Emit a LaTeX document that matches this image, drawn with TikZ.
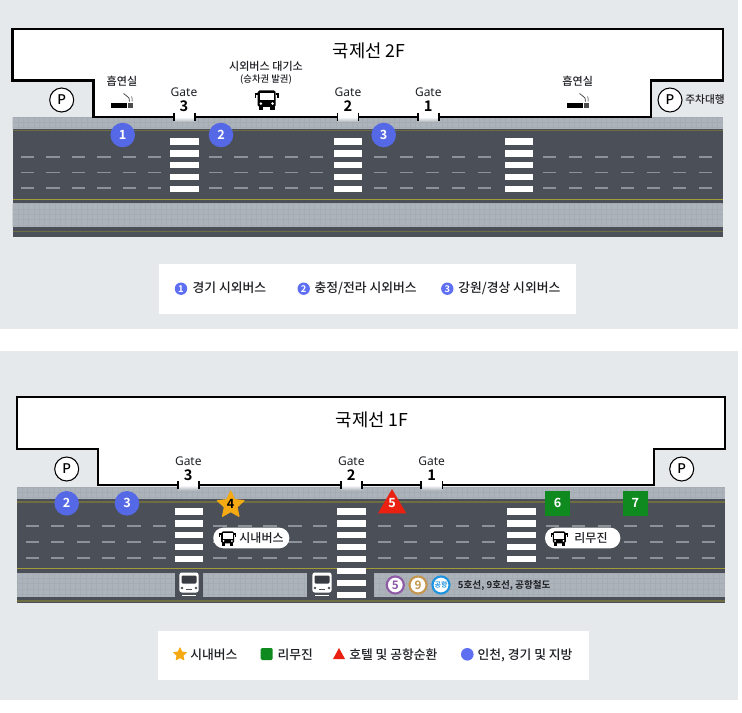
\documentclass[tikz,border=0pt]{standalone}
\usepackage{fontspec}
\setmainfont{Noto Sans CJK KR Medium}[BoldFont={Noto Sans CJK KR Bold}]
\newfontfamily\titlefont{Noto Sans CJK KR}
\newfontfamily\gatefont{Noto Sans}
\usetikzlibrary{shapes.geometric}
\definecolor{pagebg}{HTML}{E6E9EC}
\definecolor{roadc}{HTML}{4B5058}
\definecolor{walkc}{HTML}{ADB3BB}
\definecolor{gridc}{HTML}{A6ACB4}
\definecolor{dashc}{HTML}{8D9198}
\definecolor{yelA}{HTML}{6F6D42}
\definecolor{yelB}{HTML}{A39C35}
\definecolor{markblue}{HTML}{5568E6}
\definecolor{legblue}{HTML}{5F6FF2}
\definecolor{markgreen}{HTML}{0F8A1E}
\definecolor{markred}{HTML}{EA2110}
\definecolor{markstar}{HTML}{F5A912}
\definecolor{inkc}{HTML}{1E2024}
\definecolor{subA}{HTML}{8E5BA6}
\definecolor{subB}{HTML}{C4964E}
\definecolor{subC}{HTML}{1E94E0}
\tikzset{
  x=0.75pt,y=-0.75pt,
  building/.style={fill=white,draw=black,line width=1.6pt,line join=miter},
  roadfill/.style={fill=roadc,draw=none},
  walkfill/.style={fill=walkc,draw=none},
  gridline/.style={draw=gridc,line width=0.25pt},
  lanedash/.style={draw=dashc,line width=1.4pt},
  crossbar/.style={fill=white,draw=none},
  yellowA/.style={draw=yelA,line width=1.4pt},
  yellowB/.style={draw=yelB,line width=0.8pt},
  gatetick/.style={draw=black,line width=1.2pt},
  numcircle/.style={circle,fill=markblue,draw=none,text=white,minimum size=18.4pt,inner sep=0pt,font=\fontsize{9.5}{10}\selectfont\bfseries},
  numsquare/.style={rectangle,fill=markgreen,draw=none,text=white,minimum size=18.4pt,inner sep=0pt,font=\fontsize{9.5}{10}\selectfont\bfseries},
  numtext/.style={text=white,inner sep=0pt,font=\fontsize{9.5}{10}\selectfont\bfseries},
  staricon/.style={star,star points=5,star point ratio=2.1,fill=markstar,draw=markstar,line join=round,line width=0.8pt,inner sep=0pt,minimum size=21pt,text=black,font=\fontsize{9.5}{10}\selectfont\bfseries},
  pcircle/.style={circle,draw=black,fill=white,line width=0.8pt,minimum size=18pt,inner sep=0pt,font=\fontsize{10}{11}\selectfont},
  gatelabel/.style={inner sep=0pt,text=inkc,font=\gatefont\fontsize{9}{10}\selectfont},
  gatenum/.style={inner sep=0pt,text=black,font=\fontsize{11}{12}\selectfont\bfseries},
  title/.style={inner sep=0pt,text=black,font=\titlefont\fontsize{13.3}{14}\selectfont},
  smalltext/.style={inner sep=0pt,text=inkc,font=\fontsize{8.3}{10}\selectfont},
  legendtext/.style={anchor=west,inner sep=0pt,text=inkc,font=\fontsize{9.6}{11}\selectfont},
  legendnum/.style={numcircle,fill=legblue,minimum size=9.3pt,font=\fontsize{7}{8}\selectfont\bfseries},
  pill/.style={fill=white,draw=none,rounded corners=7.5pt},
  subway/.style={circle,draw=#1,fill=white,line width=1.6pt,minimum size=12.8pt,inner sep=0pt,text=#1,font=\fontsize{8.8}{9}\selectfont\bfseries},
}
% sidewalk block with its fine grid
\newcommand\walkblock[4]{%
  \fill[walkfill] (#1,#2) rectangle (#3,#4);
  \begin{scope}
    \clip (#1,#2) rectangle (#3,#4);
    \foreach \gx in {0,5.3,...,742} {\draw[gridline] (\gx+#1,#2) -- (\gx+#1,#4);}
    \foreach \gy in {0,5.3,...,40} {\draw[gridline] (#1,\gy+#2) -- (#3,\gy+#2);}
  \end{scope}}
% row of lane dashes: start, period, count-1, y list
\newcommand\lanes[4]{%
  \foreach \ly in {#4} {\foreach \li in {0,...,#3} {\draw[lanedash] ({#1+#2*\li},\ly) -- ({#1+#2*\li+13.3},\ly);}}}
% zebra crossing: left x, list of top y
\newcommand\zebra[2]{%
  \foreach \zy in {#2} {\fill[crossbar] (#1,\zy) rectangle (#1+28.6,\zy+6.3);}}
% gate gap in the building wall
\newcommand\gategap[3]{%
  \shade[top color=white,bottom color=walkc] (#1,#3) rectangle (#2,#3+5);
  \fill[white] (#1,#3-1.2) rectangle (#2,#3+1);
  \draw[gatetick] (#1,#3-4) -- (#1,#3+4);
  \draw[gatetick] (#2,#3-4) -- (#2,#3+4);}
% dark front-view bus icon
\newcommand\busicon[3]{%
  \begin{scope}[shift={(#1,#2)},scale=#3]
    \fill[black,rounded corners=1.2pt] (-9,-9.5) rectangle (9,7);
    \fill[black] (-8,6) rectangle (-3.5,10);
    \fill[black] (3.5,6) rectangle (8,10);
    \fill[black] (-12,-7) rectangle (-9,-5.2);
    \fill[black] (9,-7) rectangle (12,-5.2);
    \fill[black] (-12,-7) rectangle (-10.5,-2);
    \fill[black] (10.5,-7) rectangle (12,-2);
    \fill[white] (-6.8,-6.8) rectangle (6.8,0.5);
    \fill[white] (-5.8,3.6) circle (1.4);
    \fill[white] (5.8,3.6) circle (1.4);
  \end{scope}}
% white top-view bus on the lower lane
\newcommand\whitebus[2]{%
  \begin{scope}[shift={(#1,#2)}]
    \fill[white,rounded corners=1.8pt] (-9.6,-12.5) rectangle (9.6,7.5);
    \fill[roadc!75!black,rounded corners=0.8pt] (-7.5,-9.5) rectangle (7.5,-1.5);
    \fill[roadc] (-7,3) circle (1.3);
    \fill[roadc] (7,3) circle (1.3);
    \draw[roadc,line width=0.6pt] (-3,4.5) -- (3,4.5);
    \fill[white] (-7,9.5) rectangle (7,11.2);
  \end{scope}}
% cigarette icon, left x and body y
\newcommand\cigar[2]{%
  \begin{scope}[shift={(#1,#2)}]
    \fill[black] (0,0) rectangle (16,5.4);
    \fill[black!70] (16.8,0) rectangle (18.6,5.4);
    \fill[black!70] (19.3,0) rectangle (21.8,5.4);
    \draw[black!75,line width=0.55pt] (12.5,-9.5) .. controls (14,-7) and (17,-7.5) .. (18,-5) .. controls (18.5,-3.5) and (18.5,-2.5) .. (18.5,-1.5);
    \draw[black!55,line width=0.55pt] (20.5,-6.5) .. controls (22,-4.5) and (21,-3) .. (21,-1.5);
  \end{scope}}
\begin{document}
\begin{tikzpicture}
\useasboundingbox (0,0) rectangle (742,713);
\fill[white] (0,0) rectangle (742,713);
\fill[pagebg] (0,0) rectangle (738,328.5);
\fill[pagebg] (0,351) rectangle (738,700);

%%%%%%%%%%%%%% 2F
\fill[roadfill] (12.5,129) rectangle (722.5,236.5);
\walkblock{12.5}{117}{722.5}{129.5}
\walkblock{12.5}{203.5}{722.5}{227}
\draw[yellowA] (12.5,130.5) -- (722.5,130.5);
\draw[yellowB] (12.5,199.5) -- (722.5,199.5);
\draw[yellowA] (12.5,231.5) -- (722.5,231.5);
\lanes{21}{25.4}{5}{157,172.5,188}
\lanes{209}{25.2}{4}{157,172.5,188}
\lanes{374}{26}{4}{157,172.5,188}
\lanes{543}{26}{6}{157,172.5,188}
\zebra{170.3}{138.4,150.3,162.2,174.1,186}
\zebra{333.7}{138.4,150.3,162.2,174.1,186}
\zebra{504.7}{138.4,150.3,162.2,174.1,186}
\draw[building] (12.5,28.8) -- (722.7,28.8) -- (722.7,80.5) -- (651,80.5) -- (651,117) -- (93.5,117) -- (93.5,80.5) -- (12.5,80.5) -- cycle;
\gategap{173.8}{195}{117}
\gategap{337.3}{358.5}{117}
\gategap{417.7}{439}{117}
\node[title] (title2f) at (369,51) {국제선 2F};
\node[smalltext] (smokeA) at (122,81.7) {흡연실};
\node[smalltext] (smokeB) at (577.7,81.7) {흡연실};
\cigar{111}{103}
\cigar{567}{103}
\node[gatelabel] (g3a) at (184,92.5) {Gate};
\node[gatenum] (g3b) at (184,106.5) {3};
\node[gatelabel] (g2a) at (348,92.5) {Gate};
\node[gatenum] (g2b) at (348,106.5) {2};
\node[gatelabel] (g1a) at (428.3,92.5) {Gate};
\node[gatenum] (g1b) at (428.3,106.5) {1};
\node[smalltext] (waitA) at (266,66) {시외버스 대기소};
\node[smalltext,font=\fontsize{7}{8}\selectfont] (waitB) at (266,79.5) {(승차권 발권)};
\busicon{266.7}{100}{1}
\node[pcircle] (pA) at (61.7,100) {P};
\node[pcircle] (pB) at (670,100) {P};
\node[smalltext,font=\fontsize{8}{9}\selectfont] (valet) at (705,100) {주차대행};
\node[numcircle] (m1) at (122.7,135) {1};
\node[numcircle] (m2) at (221,135) {2};
\node[numcircle] (m3) at (383.7,135) {3};

% legend 2F
\fill[white] (159.3,264) rectangle (576.3,313.7);
\node[legendnum] (l1) at (181,288.7) {1};
\node[legendtext] (lt1) at (192.3,288) {경기 시외버스};
\node[legendnum] (l2) at (303.7,288.7) {2};
\node[legendtext] (lt2) at (314.3,288) {충정/전라 시외버스};
\node[legendnum] (l3) at (447.3,288.7) {3};
\node[legendtext] (lt3) at (458,288) {강원/경상 시외버스};

%%%%%%%%%%%%%% 1F
\fill[roadfill] (17,499) rectangle (724.5,602.8);
\walkblock{17}{487}{724.5}{499.3}
\draw[yellowA] (17,502) -- (724.5,502);
\draw[yellowB] (17,568.3) -- (724.5,568.3);
\lanes{25.7}{25.4}{5}{526,542,558}
\lanes{213.3}{25}{4}{526,542,558}
\lanes{377.7}{26}{4}{526,542,558}
\lanes{545.7}{26}{6}{526,542,558}
\walkblock{17}{572.8}{174.7}{596.8}
\walkblock{203}{572.8}{306.7}{596.8}
\walkblock{374.3}{572.8}{724.5}{596.8}
\draw[yellowA] (17,600.8) -- (724.5,600.8);
\zebra{174.7}{508.4,520.2,532,543.6,555.5}
\zebra{337}{508.4,520.2,532,543.6,555.5,567.5,580,592}
\zebra{507}{508.4,520.2,532,543.6,555.5}
\draw[building] (17,396.8) -- (724.7,396.8) -- (724.7,449.3) -- (653.7,449.3) -- (653.7,485.3) -- (98.3,485.3) -- (98.3,449.3) -- (17,449.3) -- cycle;
\gategap{178}{199}{485.3}
\gategap{340.7}{362}{485.3}
\gategap{421}{442.3}{485.3}
\node[title] (title1f) at (372,420) {국제선 1F};
\node[gatelabel] (h3a) at (188.3,461) {Gate};
\node[gatenum] (h3b) at (188.3,475) {3};
\node[gatelabel] (h2a) at (351.3,461) {Gate};
\node[gatenum] (h2b) at (351.3,475) {2};
\node[gatelabel] (h1a) at (431.7,461) {Gate};
\node[gatenum] (h1b) at (431.7,475) {1};
\node[pcircle] (pC) at (66.7,469) {P};
\node[pcircle] (pD) at (681.7,469) {P};
\node[numcircle] (n2) at (66.7,503.3) {2};
\node[numcircle] (n3) at (127,503.3) {3};
\node[staricon] (n4) at (230.7,505) {};
\node[inner sep=0pt,font=\fontsize{9.5}{10}\selectfont\bfseries] (n4t) at (230.7,503.8) {4};
\fill[markred] (392,489) -- (406.3,513.3) -- (378,513.3) -- cycle;
\node[numtext] (n5) at (392,503.5) {5};
\node[numsquare] (n6) at (557.7,503.3) {6};
\node[numsquare] (n7) at (635.3,503.3) {7};
\fill[pill] (213.3,527.7) rectangle (289.3,548.3);
\busicon{227.7}{538.3}{0.72}
\node[smalltext,font=\fontsize{9}{10}\selectfont] (cityb) at (261.5,538) {시내버스};
\fill[pill] (545,527.7) rectangle (620.3,548.3);
\busicon{559.3}{538.3}{0.72}
\node[smalltext,font=\fontsize{9}{10}\selectfont] (limo) at (591,538) {리무진};
\whitebus{189}{585}
\whitebus{322}{585}
\node[subway=subA] (s5) at (395.3,585) {5};
\node[subway=subB] (s9) at (418,585) {9};
\node[subway=subC,font=\fontsize{5.2}{6}\selectfont\bfseries] (sa) at (441,585) {공항};
\node[anchor=west,inner sep=0pt,text=inkc,font=\fontsize{7.2}{8}\selectfont\bfseries] (sub) at (457.7,585) {5호선, 9호선, 공항철도};

% legend 1F
\fill[white] (157.7,631) rectangle (589,680);
\node[star,star points=5,star point ratio=2.1,fill=markstar,draw=markstar,line join=round,line width=0.6pt,inner sep=0pt,minimum size=10pt] (k1) at (180,654.5) {};
\node[legendtext] (kt1) at (190,655) {시내버스};
\fill[markgreen,rounded corners=1pt] (260.7,648) rectangle (272.7,660);
\node[legendtext] (kt2) at (277.3,655) {리무진};
\fill[markred] (339,648) -- (345,659) -- (333,659) -- cycle;
\node[legendtext] (kt3) at (349,655) {호텔 및 공항순환};
\fill[legblue] (467.3,654.3) circle (6.3);
\node[legendtext] (kt4) at (477.3,655) {인천, 경기 및 지방};
\end{tikzpicture}
\end{document}
